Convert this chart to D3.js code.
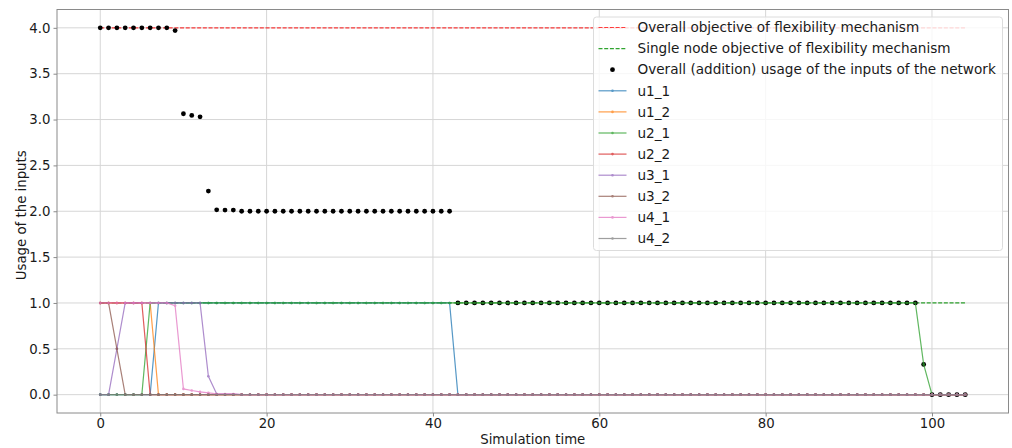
<!DOCTYPE html>
<html>
<head>
<meta charset="utf-8">
<script src="https://cdn.jsdelivr.net/npm/d3@7"></script>
<style>
  html, body { margin: 0; padding: 0; background: #fff; }
  svg { display: block; font-family: "DejaVu Sans", sans-serif; }
</style>
</head>
<body>
<svg id="chart" width="1012" height="448"></svg>
<script>
// ---------------- data ----------------
const time = d3.range(0, 105); // simulation steps 0..104

const overallObjective = 4;
const singleNodeObjective = 1;

const overallUsage = [
  4,4,4,4,4,4,4,4,4,3.97,
  3.063,3.045,3.03,2.22,2.016,2.013,2.013,2,2,2,
  2,2,2,2,2,2,2,2,2,2,
  2,2,2,2,2,2,2,2,2,2,
  2,2,2,1,1,1,1,1,1,1,
  1,1,1,1,1,1,1,1,1,1,
  1,1,1,1,1,1,1,1,1,1,
  1,1,1,1,1,1,1,1,1,1,
  1,1,1,1,1,1,1,1,1,1,
  1,1,1,1,1,1,1,1,1,0.33,
  0,0,0,0,0
];

const u1_1 = [
  0,0,0,0,0,0,0,1,1,1,
  1,1,1,1,1,1,1,1,1,1,
  1,1,1,1,1,1,1,1,1,1,
  1,1,1,1,1,1,1,1,1,1,
  1,1,1,0,0,0,0,0,0,0,
  0,0,0,0,0,0,0,0,0,0,
  0,0,0,0,0,0,0,0,0,0,
  0,0,0,0,0,0,0,0,0,0,
  0,0,0,0,0,0,0,0,0,0,
  0,0,0,0,0,0,0,0,0,0,
  0,0,0,0,0
];
const u1_2 = [
  1,1,1,1,1,1,1,0,0,0,
  0,0,0,0,0,0,0,0,0,0,
  0,0,0,0,0,0,0,0,0,0,
  0,0,0,0,0,0,0,0,0,0,
  0,0,0,0,0,0,0,0,0,0,
  0,0,0,0,0,0,0,0,0,0,
  0,0,0,0,0,0,0,0,0,0,
  0,0,0,0,0,0,0,0,0,0,
  0,0,0,0,0,0,0,0,0,0,
  0,0,0,0,0,0,0,0,0,0,
  0,0,0,0,0
];
const u2_1 = [
  0,0,0,0,0,0,1,1,1,1,
  1,1,1,1,1,1,1,1,1,1,
  1,1,1,1,1,1,1,1,1,1,
  1,1,1,1,1,1,1,1,1,1,
  1,1,1,1,1,1,1,1,1,1,
  1,1,1,1,1,1,1,1,1,1,
  1,1,1,1,1,1,1,1,1,1,
  1,1,1,1,1,1,1,1,1,1,
  1,1,1,1,1,1,1,1,1,1,
  1,1,1,1,1,1,1,1,1,0.33,
  0,0,0,0,0
];
const u2_2 = [
  1,1,1,1,1,1,0,0,0,0,
  0,0,0,0,0,0,0,0,0,0,
  0,0,0,0,0,0,0,0,0,0,
  0,0,0,0,0,0,0,0,0,0,
  0,0,0,0,0,0,0,0,0,0,
  0,0,0,0,0,0,0,0,0,0,
  0,0,0,0,0,0,0,0,0,0,
  0,0,0,0,0,0,0,0,0,0,
  0,0,0,0,0,0,0,0,0,0,
  0,0,0,0,0,0,0,0,0,0,
  0,0,0,0,0
];
const u3_1 = [
  0,0,0.5,1,1,1,1,1,1,1,
  1,1,1,0.2,0.008,0.005,0.005,0,0,0,
  0,0,0,0,0,0,0,0,0,0,
  0,0,0,0,0,0,0,0,0,0,
  0,0,0,0,0,0,0,0,0,0,
  0,0,0,0,0,0,0,0,0,0,
  0,0,0,0,0,0,0,0,0,0,
  0,0,0,0,0,0,0,0,0,0,
  0,0,0,0,0,0,0,0,0,0,
  0,0,0,0,0,0,0,0,0,0,
  0,0,0,0,0
];
const u3_2 = [
  1,1,0.5,0,0,0,0,0,0,0,
  0,0,0,0,0,0,0,0,0,0,
  0,0,0,0,0,0,0,0,0,0,
  0,0,0,0,0,0,0,0,0,0,
  0,0,0,0,0,0,0,0,0,0,
  0,0,0,0,0,0,0,0,0,0,
  0,0,0,0,0,0,0,0,0,0,
  0,0,0,0,0,0,0,0,0,0,
  0,0,0,0,0,0,0,0,0,0,
  0,0,0,0,0,0,0,0,0,0,
  0,0,0,0,0
];
const u4_1 = [
  1,1,1,1,1,1,1,1,1,0.97,
  0.063,0.045,0.03,0.02,0.008,0.008,0.008,0,0,0,
  0,0,0,0,0,0,0,0,0,0,
  0,0,0,0,0,0,0,0,0,0,
  0,0,0,0,0,0,0,0,0,0,
  0,0,0,0,0,0,0,0,0,0,
  0,0,0,0,0,0,0,0,0,0,
  0,0,0,0,0,0,0,0,0,0,
  0,0,0,0,0,0,0,0,0,0,
  0,0,0,0,0,0,0,0,0,0,
  0,0,0,0,0
];
const u4_2 = [
  0,0,0,0,0,0,0,0,0,0,
  0,0,0,0,0,0,0,0,0,0,
  0,0,0,0,0,0,0,0,0,0,
  0,0,0,0,0,0,0,0,0,0,
  0,0,0,0,0,0,0,0,0,0,
  0,0,0,0,0,0,0,0,0,0,
  0,0,0,0,0,0,0,0,0,0,
  0,0,0,0,0,0,0,0,0,0,
  0,0,0,0,0,0,0,0,0,0,
  0,0,0,0,0,0,0,0,0,0,
  0,0,0,0,0
];

const seriesNames = ["u1_1","u1_2","u2_1","u2_2","u3_1","u3_2","u4_1","u4_2"];
const seriesValues = [u1_1,u1_2,u2_1,u2_2,u3_1,u3_2,u4_1,u4_2];
const seriesColors = ["#1f77b4","#ff7f0e","#2ca02c","#d62728","#9467bd","#8c564b","#e377c2","#7f7f7f"];

const xTicks = [0, 20, 40, 60, 80, 100];
const yTicks = [0, 0.5, 1, 1.5, 2, 2.5, 3, 3.5, 4];

const legendLabels = [
  "Overall objective of flexibility mechanism",
  "Single node objective of flexibility mechanism",
  "Overall (addition) usage of the inputs of the network"
];

// ---------------- layout ----------------
const L = 57, R = 1008.5, T = 9.5, B = 413;
const svg = d3.select("#chart");
const x = d3.scaleLinear().domain([-5.2, 109.2]).range([L, R]);
const y = d3.scaleLinear().domain([-0.2, 4.2]).range([B, T]);

// grid
const grid = svg.append("g");
grid.selectAll("line.vx").data(xTicks).join("line")
  .attr("x1", d => x(d)).attr("x2", d => x(d)).attr("y1", T).attr("y2", B)
  .attr("stroke", "#d6d6d6").attr("stroke-width", 1);
grid.selectAll("line.hy").data(yTicks).join("line")
  .attr("x1", L).attr("x2", R).attr("y1", d => y(d)).attr("y2", d => y(d))
  .attr("stroke", "#d6d6d6").attr("stroke-width", 1);

svg.append("clipPath").attr("id", "clip")
  .append("rect").attr("x", L).attr("y", T).attr("width", R - L).attr("height", B - T);
const plot = svg.append("g").attr("clip-path", "url(#clip)");

const redDash = { color: "#ff0000", op: 0.75 };
const greenDash = { color: "#1a9a1a", op: 0.9 };

const tMin = d3.min(time), tMax = d3.max(time);
// objective lines
plot.append("line")
  .attr("x1", x(tMin)).attr("x2", x(tMax)).attr("y1", y(overallObjective)).attr("y2", y(overallObjective))
  .attr("stroke", redDash.color).attr("stroke-opacity", redDash.op).attr("stroke-width", 1.2)
  .attr("stroke-dasharray", "4,1.7");
plot.append("line")
  .attr("x1", x(tMin)).attr("x2", x(tMax)).attr("y1", y(singleNodeObjective)).attr("y2", y(singleNodeObjective))
  .attr("stroke", greenDash.color).attr("stroke-opacity", greenDash.op).attr("stroke-width", 1.2)
  .attr("stroke-dasharray", "4,1.7");

// overall usage dots
plot.selectAll("circle.tot").data(time).join("circle")
  .attr("cx", d => x(d)).attr("cy", (d, i) => y(overallUsage[i]))
  .attr("r", 2.4).attr("fill", "#000");

// input series
const line = d3.line().x((d, i) => x(time[i])).y(d => y(d));
seriesValues.forEach((vals, k) => {
  const g = plot.append("g").attr("opacity", 0.75);
  g.append("path").datum(vals).attr("d", line)
    .attr("fill", "none").attr("stroke", seriesColors[k]).attr("stroke-width", 1.2);
  g.selectAll("circle").data(vals).join("circle")
    .attr("cx", (d, i) => x(time[i])).attr("cy", d => y(d))
    .attr("r", 1.3).attr("fill", seriesColors[k]);
});

// axes
const frameColor = "#8a8a8a";
const xAxis = svg.append("g").attr("transform", `translate(0,${B})`)
  .call(d3.axisBottom(x).tickValues(xTicks).tickFormat(d3.format("d")).tickSize(3.5).tickPadding(2));
const yAxis = svg.append("g").attr("transform", `translate(${L},0)`)
  .call(d3.axisLeft(y).tickValues(yTicks).tickFormat(d3.format(".1f")).tickSize(3.5).tickPadding(3));
[xAxis, yAxis].forEach(a => {
  a.select(".domain").remove();
  a.selectAll(".tick line").attr("stroke", frameColor);
  a.selectAll(".tick text").attr("fill", "#1a1a1a")
    .style("font-family", "DejaVu Sans").style("font-size", "13.3px");
});
svg.append("rect").attr("x", L).attr("y", T).attr("width", R - L).attr("height", B - T)
  .attr("fill", "none").attr("stroke", frameColor).attr("stroke-width", 1);

svg.append("text").attr("x", (L + R) / 2).attr("y", 439).attr("dy", "0.35em")
  .attr("text-anchor", "middle").attr("fill", "#1a1a1a").style("font-size", "13.3px")
  .text("Simulation time");
svg.append("text").attr("transform", `translate(21,${(T + B) / 2 + 4}) rotate(-90)`)
  .attr("dy", "0.35em").attr("text-anchor", "middle").attr("fill", "#1a1a1a").style("font-size", "13.3px")
  .text("Usage of the inputs");

// legend
const lg = svg.append("g");
lg.append("rect").attr("x", 593.5).attr("y", 17).attr("width", 409).attr("height", 233.5)
  .attr("rx", 3).attr("fill", "#fff").attr("fill-opacity", 0.8)
  .attr("stroke", "#dcdcdc").attr("stroke-width", 1);
const rowY = i => 27.5 + i * 21.1;
const hx1 = 598.5, hx2 = 626.5, tx = 637.5;
const entries = [
  { label: legendLabels[0], type: "dash", style: redDash },
  { label: legendLabels[1], type: "dash", style: greenDash },
  { label: legendLabels[2], type: "dot", color: "#000" }
].concat(seriesNames.map((n, k) => ({ label: n, type: "line", color: seriesColors[k] })));
entries.forEach((e, i) => {
  const yy = rowY(i);
  if (e.type === "dash") {
    lg.append("line").attr("x1", hx1).attr("x2", hx2).attr("y1", yy).attr("y2", yy)
      .attr("stroke", e.style.color).attr("stroke-opacity", e.style.op).attr("stroke-width", 1.2)
      .attr("stroke-dasharray", "4,1.7");
  } else if (e.type === "dot") {
    lg.append("circle").attr("cx", (hx1 + hx2) / 2).attr("cy", yy).attr("r", 2.4).attr("fill", e.color);
  } else {
    const g = lg.append("g").attr("opacity", 0.75);
    g.append("line").attr("x1", hx1).attr("x2", hx2).attr("y1", yy).attr("y2", yy)
      .attr("stroke", e.color).attr("stroke-width", 1.2);
    g.append("circle").attr("cx", (hx1 + hx2) / 2).attr("cy", yy).attr("r", 1.3).attr("fill", e.color);
  }
  lg.append("text").attr("x", tx).attr("y", yy).attr("dy", "0.35em")
    .attr("fill", "#1a1a1a").style("font-size", "13.6px").text(e.label);
});
</script>
</body>
</html>
